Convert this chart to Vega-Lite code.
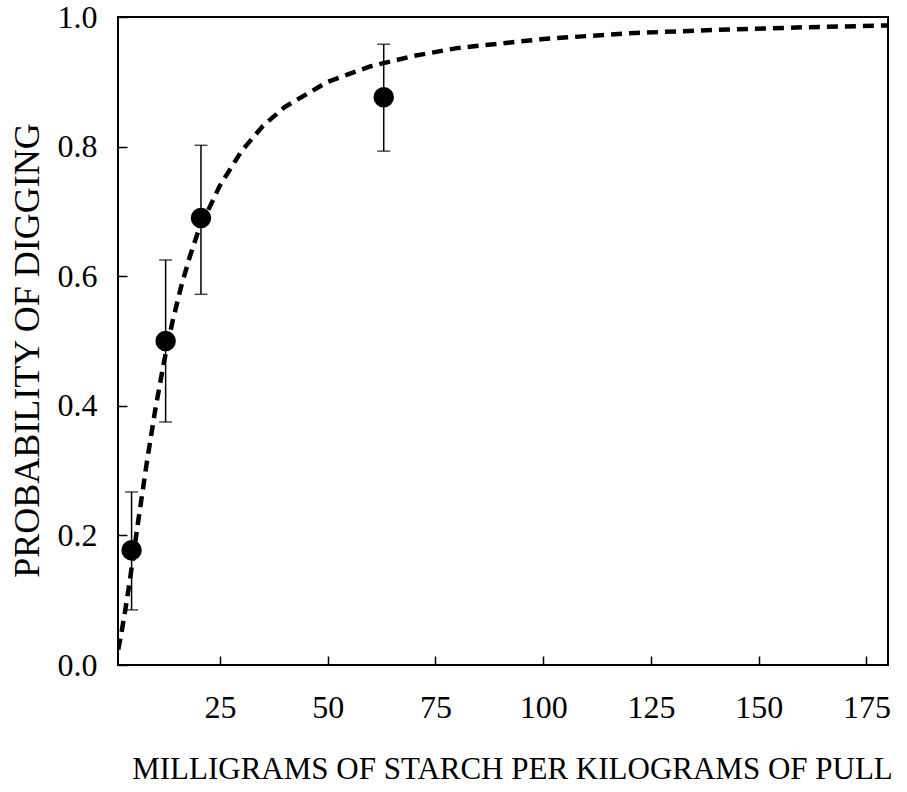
{
  "$schema": "https://vega.github.io/schema/vega-lite/v6.json",
  "width": 770,
  "height": 648,
  "autosize": {"type": "none"},
  "padding": {"left": 118, "top": 17, "right": 19, "bottom": 127},
  "background": "white",
  "config": {
    "view": {"stroke": "black", "strokeWidth": 2},
    "font": "Liberation Serif",
    "axis": {
      "domain": false,
      "grid": false,
      "tickColor": "black",
      "tickWidth": 1.5,
      "tickSize": -9,
      "labelFont": "Liberation Serif",
      "labelFontSize": 32,
      "labelColor": "black",
      "titleFont": "Liberation Serif",
      "titleFontWeight": "normal",
      "titleColor": "black"
    }
  },
  "datasets": {
    "points": [
      {"dose": 4.5, "p": 0.177, "lo": 0.085, "hi": 0.267},
      {"dose": 12.4, "p": 0.5, "lo": 0.375, "hi": 0.625},
      {"dose": 20.6, "p": 0.69, "lo": 0.572, "hi": 0.802},
      {"dose": 63, "p": 0.876, "lo": 0.793, "hi": 0.958}
    ],
    "curve": [
      {"dose": 1.4, "p": 0.024},
      {"dose": 2, "p": 0.044},
      {"dose": 3, "p": 0.083},
      {"dose": 4, "p": 0.126},
      {"dose": 5, "p": 0.173},
      {"dose": 6, "p": 0.22},
      {"dose": 8, "p": 0.311},
      {"dose": 10, "p": 0.394},
      {"dose": 12, "p": 0.467},
      {"dose": 14, "p": 0.53},
      {"dose": 16, "p": 0.584},
      {"dose": 18, "p": 0.63},
      {"dose": 20, "p": 0.67},
      {"dose": 25, "p": 0.74},
      {"dose": 30, "p": 0.793},
      {"dose": 35, "p": 0.832},
      {"dose": 40, "p": 0.861},
      {"dose": 50, "p": 0.9},
      {"dose": 60, "p": 0.924},
      {"dose": 70, "p": 0.94},
      {"dose": 80, "p": 0.952},
      {"dose": 100, "p": 0.966},
      {"dose": 120, "p": 0.975},
      {"dose": 140, "p": 0.98},
      {"dose": 160, "p": 0.984},
      {"dose": 180, "p": 0.987}
    ]
  },
  "encoding": {
    "x": {
      "field": "dose",
      "type": "quantitative",
      "scale": {"domain": [1.35, 180], "nice": false, "zero": false},
      "axis": {
        "values": [25, 50, 75, 100, 125, 150, 175],
        "labelPadding": 36,
        "title": "MILLIGRAMS OF STARCH PER KILOGRAMS OF PULL",
        "titleFontSize": 31,
        "titlePadding": 31,
        "titleX": 394
      }
    },
    "y": {
      "field": "p",
      "type": "quantitative",
      "scale": {"domain": [0, 1], "nice": false},
      "axis": {
        "values": [0, 0.2, 0.4, 0.6, 0.8, 1.0],
        "format": ".1f",
        "labelPadding": 30,
        "title": "PROBABILITY OF DIGGING",
        "titleFontSize": 36,
        "titlePadding": 11,
        "titleY": 333
      }
    }
  },
  "layer": [
    {
      "data": {"name": "curve"},
      "mark": {"type": "line", "color": "black", "strokeWidth": 4.5, "strokeDash": [11, 7], "clip": true},
      "encoding": {}
    },
    {
      "data": {"name": "points"},
      "mark": {"type": "rule", "color": "black", "strokeWidth": 1.5},
      "encoding": {
        "y": {"field": "lo", "type": "quantitative"},
        "y2": {"field": "hi"}
      }
    },
    {
      "data": {"name": "points"},
      "mark": {"type": "tick", "orient": "horizontal", "color": "black", "size": 13, "thickness": 1.5},
      "encoding": {"y": {"field": "lo", "type": "quantitative"}}
    },
    {
      "data": {"name": "points"},
      "mark": {"type": "tick", "orient": "horizontal", "color": "black", "size": 13, "thickness": 1.5},
      "encoding": {"y": {"field": "hi", "type": "quantitative"}}
    },
    {
      "data": {"name": "points"},
      "mark": {"type": "point", "filled": true, "color": "black", "opacity": 1, "size": 420, "shape": "circle"},
      "encoding": {}
    }
  ]
}
